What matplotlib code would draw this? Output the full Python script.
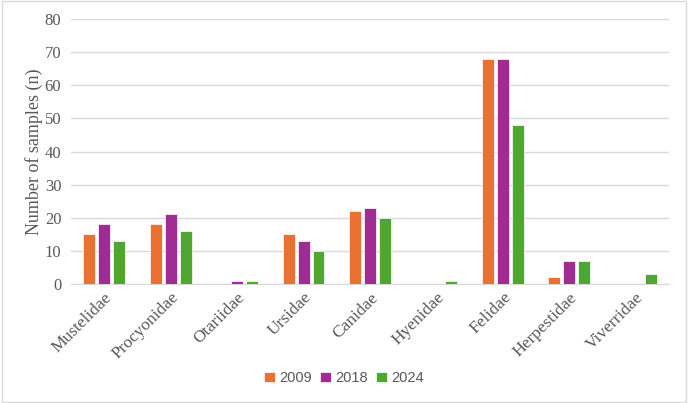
import matplotlib
matplotlib.use("Agg")
import matplotlib.pyplot as plt
import numpy as np
from matplotlib.patches import Rectangle

categories = ["Mustelidae", "Procyonidae", "Otariidae", "Ursidae", "Canidae",
              "Hyenidae", "Felidae", "Herpestidae", "Viverridae"]
series_names = ["2009", "2018", "2024"]
v2009 = [15, 18, 0, 15, 22, 0, 68, 2, 0]
v2018 = [18, 21, 1, 13, 23, 0, 68, 7, 0]
v2024 = [13, 16, 1, 10, 20, 1, 48, 7, 3]
colors = ["#E97132", "#A02B93", "#4EA72E"]
yticks = [0, 10, 20, 30, 40, 50, 60, 70, 80]

fig = plt.figure(figsize=(6.88, 4.03), dpi=100)
ax = fig.add_axes([71/688, 1-284/403, 598/688, 265/403])

x = np.arange(len(categories))
bw = 0.18
step = 0.225
for i, (vals, name, c) in enumerate(zip([v2009, v2018, v2024], series_names, colors)):
    ax.bar(x + (i-1)*step, vals, width=bw, color=c, label=name,
           edgecolor="white", linewidth=0.5, zorder=3)

ax.set_xlim(-0.5, len(categories)-0.5)
ax.set_ylim(0, 80)
ax.set_yticks(yticks)
ax.yaxis.grid(True, color="#D9D9D9", linewidth=1, zorder=0)
ax.set_axisbelow(True)
for s in ["top", "right", "left"]:
    ax.spines[s].set_visible(False)
ax.spines["bottom"].set_color("#D9D9D9")
ax.tick_params(axis="both", length=0, colors="#595959")
ax.set_xticks(x)
ax.set_xticklabels(categories, rotation=45, ha="right", rotation_mode="anchor",
                   family="Liberation Serif", fontsize=12.5, color="#595959")
for lab in ax.get_yticklabels():
    lab.set_family("Liberation Serif")
    lab.set_fontsize(12)
    lab.set_color("#595959")
ax.tick_params(axis="y", pad=7)
ax.tick_params(axis="x", pad=4)
ax.set_ylabel("Number of samples (n)", family="Liberation Serif", fontsize=13,
              color="#595959", labelpad=1)

leg = fig.legend(loc="center", bbox_to_anchor=(0.5, 1-378/403), ncol=3, frameon=False,
                 prop={"family": "Liberation Sans", "size": 10.5},
                 handlelength=0.7, handleheight=0.7, handletextpad=0.3, columnspacing=0.6)
for t in leg.get_texts():
    t.set_color("#595959")

fig.patches.append(Rectangle((0.003, 0.003), 0.994, 0.994, transform=fig.transFigure,
                             fill=False, edgecolor="#D9D9D9", linewidth=1))

fig.savefig("out.png", dpi=100)
